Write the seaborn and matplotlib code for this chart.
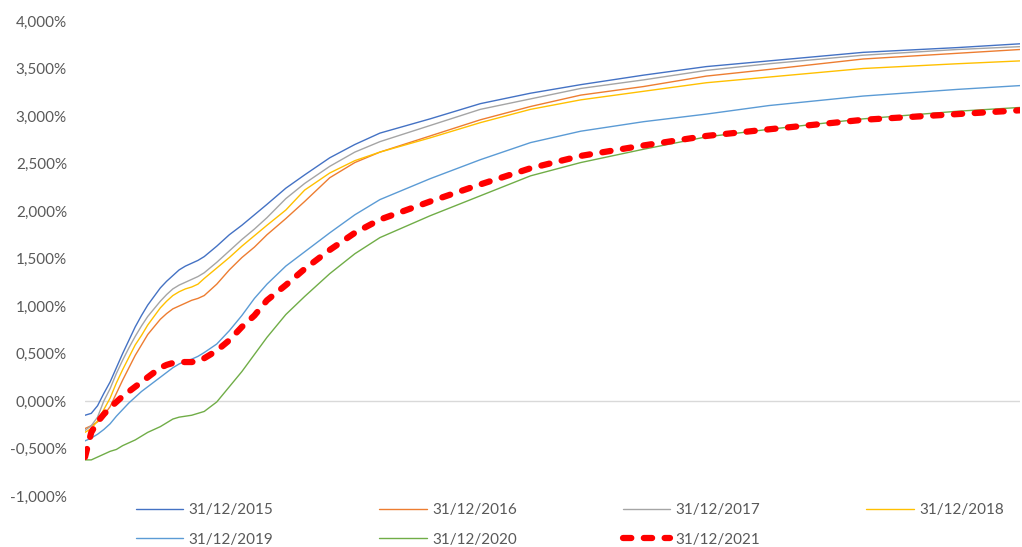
import numpy as np
import pandas as pd
import matplotlib
matplotlib.use("Agg")
import matplotlib.pyplot as plt
import seaborn as sns

# ---- data (maturity in years, rate in %) ----
maturities = [1, 2, 3, 4, 5, 6, 7, 8, 9, 10, 11, 12, 13, 14, 15, 16, 17, 18, 19, 20,
              22, 24, 26, 28, 30, 33, 36, 40, 44, 48, 56, 64, 72, 80, 90, 100, 110, 125, 140, 150]

rates_2015 = [-0.15, -0.13, -0.05, 0.08, 0.20, 0.35, 0.50, 0.64, 0.78, 0.90, 1.01, 1.10, 1.19, 1.26, 1.32, 1.38, 1.42, 1.45, 1.48, 1.52,
              1.63, 1.75, 1.85, 1.96, 2.07, 2.24, 2.38, 2.56, 2.70, 2.82, 2.97, 3.13, 3.24, 3.33, 3.43, 3.52, 3.58, 3.67, 3.72, 3.76]
rates_2016 = [-0.29, -0.26, -0.22, -0.15, -0.06, 0.08, 0.22, 0.35, 0.48, 0.59, 0.70, 0.78, 0.86, 0.92, 0.97, 1.00, 1.03, 1.06, 1.08, 1.11,
              1.23, 1.38, 1.51, 1.62, 1.75, 1.92, 2.10, 2.35, 2.51, 2.62, 2.79, 2.96, 3.10, 3.22, 3.31, 3.42, 3.49, 3.60, 3.66, 3.70]
rates_2017 = [-0.31, -0.26, -0.17, 0.00, 0.13, 0.29, 0.43, 0.56, 0.68, 0.79, 0.89, 0.97, 1.05, 1.12, 1.18, 1.22, 1.25, 1.28, 1.31, 1.35,
              1.46, 1.58, 1.70, 1.81, 1.93, 2.13, 2.29, 2.47, 2.62, 2.73, 2.90, 3.07, 3.18, 3.29, 3.38, 3.48, 3.55, 3.64, 3.70, 3.73]
rates_2018 = [-0.33, -0.29, -0.21, -0.09, 0.03, 0.19, 0.33, 0.46, 0.59, 0.69, 0.80, 0.89, 0.98, 1.05, 1.11, 1.15, 1.18, 1.20, 1.23, 1.29,
              1.40, 1.51, 1.63, 1.74, 1.85, 2.01, 2.22, 2.40, 2.53, 2.62, 2.77, 2.93, 3.07, 3.17, 3.26, 3.35, 3.41, 3.50, 3.55, 3.58]
rates_2019 = [-0.42, -0.39, -0.35, -0.30, -0.24, -0.16, -0.09, -0.02, 0.04, 0.10, 0.15, 0.20, 0.25, 0.30, 0.35, 0.39, 0.42, 0.44, 0.47, 0.51,
              0.60, 0.74, 0.90, 1.08, 1.23, 1.42, 1.57, 1.77, 1.96, 2.12, 2.34, 2.54, 2.72, 2.84, 2.94, 3.02, 3.11, 3.21, 3.28, 3.32]
rates_2020 = [-0.62, -0.62, -0.59, -0.56, -0.53, -0.51, -0.47, -0.44, -0.41, -0.37, -0.33, -0.30, -0.27, -0.23, -0.19, -0.17, -0.16, -0.15, -0.13, -0.11,
              -0.01, 0.15, 0.31, 0.49, 0.67, 0.91, 1.10, 1.34, 1.55, 1.72, 1.95, 2.16, 2.37, 2.51, 2.65, 2.78, 2.86, 2.97, 3.05, 3.09]
rates_2021 = [-0.59, -0.33, -0.22, -0.14, -0.07, -0.01, 0.05, 0.10, 0.15, 0.20, 0.25, 0.30, 0.35, 0.38, 0.40, 0.41, 0.41, 0.41, 0.42, 0.45,
              0.53, 0.64, 0.78, 0.90, 1.06, 1.22, 1.39, 1.59, 1.77, 1.91, 2.10, 2.28, 2.45, 2.58, 2.69, 2.79, 2.86, 2.96, 3.02, 3.06]

series_labels = ["31/12/2015", "31/12/2016", "31/12/2017", "31/12/2018",
                 "31/12/2019", "31/12/2020", "31/12/2021"]
series_values = [rates_2015, rates_2016, rates_2017, rates_2018, rates_2019, rates_2020, rates_2021]
series_colors = ["#4472C4", "#ED7D31", "#A5A5A5", "#FFC000", "#5B9BD5", "#70AD47", "#FF0000"]

y_ticks = [-1.0, -0.5, 0.0, 0.5, 1.0, 1.5, 2.0, 2.5, 3.0, 3.5, 4.0]

# ---- style ----
sns.set_theme(style="white")
plt.rcParams["font.family"] = ["Lato", "DejaVu Sans"]

W, H = 1022, 547
fig = plt.figure(figsize=(W / 100, H / 100), dpi=100)
ax = fig.add_axes([85 / W, 51 / H, 935 / W, 475 / H])

ax.axhline(0, color="#D9D9D9", linewidth=1.0, zorder=0)

handles = {}
for lab, vals, col in zip(series_labels, series_values, series_colors):
    df = pd.DataFrame({"maturity": maturities, "rate": vals})
    if lab == "31/12/2021":
        sns.lineplot(data=df, x="maturity", y="rate", ax=ax, color=col,
                     linewidth=4.5, label=lab, zorder=5)
        ln = ax.lines[-1]
        ln.set_dashes((1.33, 2.0))
        ln.set_dash_capstyle("round")
    else:
        sns.lineplot(data=df, x="maturity", y="rate", ax=ax, color=col,
                     linewidth=1.0, label=lab, zorder=3)
    handles[lab] = ax.lines[-1]

ax.set_xlim(1, 150)
ax.set_ylim(-1, 4)
ax.set_xticks([])
ax.set_xlabel("")
ax.set_ylabel("")
ax.set_yticks(y_ticks)
ax.set_yticklabels([f"{v:.3f}%".replace(".", ",") for v in y_ticks])
ax.tick_params(axis="y", length=0, pad=13, labelcolor="#595959", labelsize=11)
for s in ax.spines.values():
    s.set_visible(False)

order = ["31/12/2015", "31/12/2019", "31/12/2016", "31/12/2020",
         "31/12/2017", "31/12/2021", "31/12/2018"]
leg = ax.legend([handles[k] for k in order], order, ncol=4, loc="upper left",
                bbox_to_anchor=(136 / W, 1 - 503 / H), bbox_transform=fig.transFigure,
                frameon=False, handlelength=3.1, handletextpad=0.35,
                columnspacing=6.94, labelspacing=1.03, borderpad=0, borderaxespad=0,
                fontsize=11, labelcolor="#595959")

fig.savefig("out.png", dpi=100)
